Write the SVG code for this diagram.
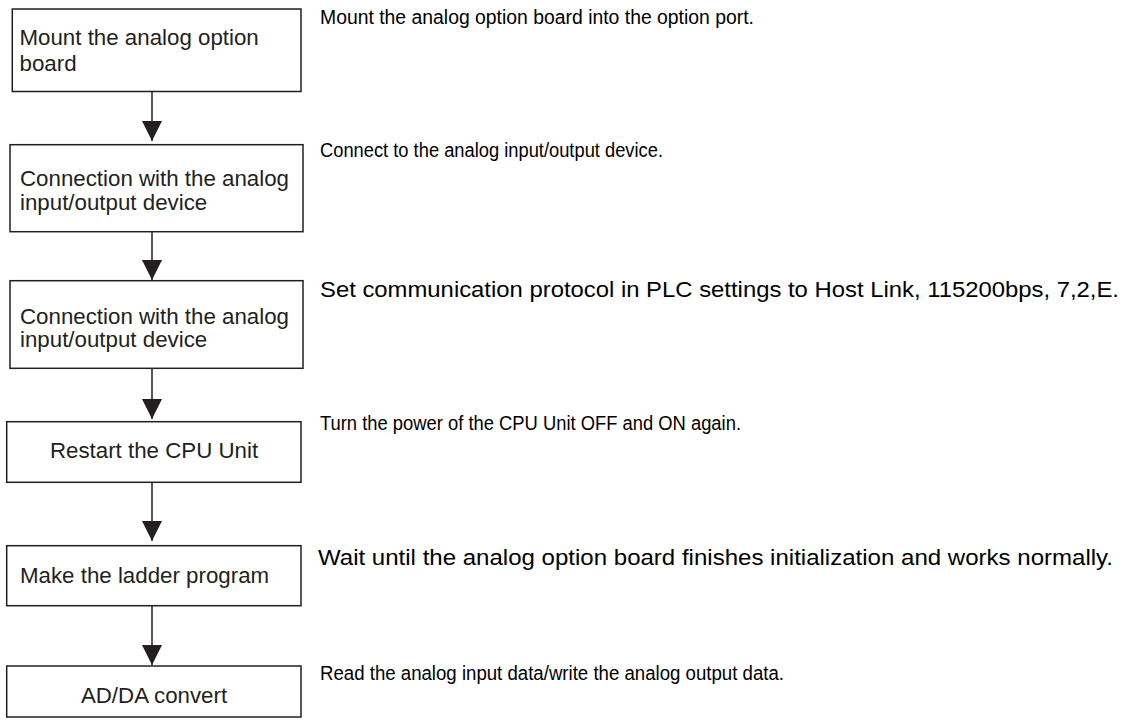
<svg xmlns="http://www.w3.org/2000/svg" width="1126" height="722" viewBox="0 0 1126 722">
<style>
.box{fill:#fff;stroke:#231f20;stroke-width:1.5}
.bt{font-family:"Liberation Sans",Arial,sans-serif;font-size:22.3px;fill:#231f20}
.rt{font-family:"Liberation Sans",Arial,sans-serif;font-size:19.5px;fill:#000}
.c{stroke:#231f20;stroke-width:1.5;fill:none}
.mid{text-anchor:middle}
</style>
<defs>
<marker id="ah" markerUnits="userSpaceOnUse" markerWidth="20" markerHeight="20" viewBox="0 0 20 20" refX="20" refY="10" orient="auto">
<path d="M0,0 L20,10 L0,20 Z" fill="#231f20"/>
</marker>
</defs>
<rect width="1126" height="722" fill="#fff"/>
<g id="connectors">
<line class="c" x1="152" y1="92" x2="152" y2="141" marker-end="url(#ah)"/>
<line class="c" x1="152" y1="232" x2="152" y2="280" marker-end="url(#ah)"/>
<line class="c" x1="152" y1="368" x2="152" y2="419" marker-end="url(#ah)"/>
<line class="c" x1="152" y1="482" x2="152" y2="541" marker-end="url(#ah)"/>
<line class="c" x1="152" y1="606" x2="152" y2="665" marker-end="url(#ah)"/>
</g>
<g id="n1">
<rect class="box" x="12.3" y="9" width="288.7" height="82.5"/>
<text class="bt" x="19.5" y="45">Mount the analog option</text>
<text class="bt" x="19.5" y="70.5">board</text>
</g>
<g id="n2">
<rect class="box" x="10" y="144.7" width="293" height="87"/>
<text class="bt" x="20" y="186">Connection with the analog</text>
<text class="bt" x="20" y="210">input/output device</text>
</g>
<g id="n3">
<rect class="box" x="10" y="280.7" width="293" height="87.6"/>
<text class="bt" x="20" y="324">Connection with the analog</text>
<text class="bt" x="20" y="347">input/output device</text>
</g>
<g id="n4">
<rect class="box" x="6.7" y="421.7" width="294.3" height="60.6"/>
<text class="bt mid" x="154" y="458">Restart the CPU Unit</text>
</g>
<g id="n5">
<rect class="box" x="6.7" y="545.7" width="294.3" height="60"/>
<text class="bt" x="20" y="582.7">Make the ladder program</text>
</g>
<g id="n6">
<rect class="box" x="6.7" y="666" width="294.3" height="51"/>
<text class="bt mid" x="154" y="703.3">AD/DA convert</text>
</g>
<g id="notes">
<text class="rt" x="320" y="24" textLength="434" lengthAdjust="spacingAndGlyphs">Mount the analog option board into the option port.</text>
<text class="rt" x="320" y="156.7" textLength="343" lengthAdjust="spacingAndGlyphs">Connect to the analog input/output device.</text>
<text class="rt" x="320" y="296.7" style="font-size:21.5px" textLength="799" lengthAdjust="spacingAndGlyphs">Set communication protocol in PLC settings to Host Link, 115200bps, 7,2,E.</text>
<text class="rt" x="320" y="430" textLength="421" lengthAdjust="spacingAndGlyphs">Turn the power of the CPU Unit OFF and ON again.</text>
<text class="rt" x="318" y="565" style="font-size:22px" textLength="795" lengthAdjust="spacingAndGlyphs">Wait until the analog option board finishes initialization and works normally.</text>
<text class="rt" x="320" y="680" textLength="464" lengthAdjust="spacingAndGlyphs">Read the analog input data/write the analog output data.</text>
</g>
</svg>
